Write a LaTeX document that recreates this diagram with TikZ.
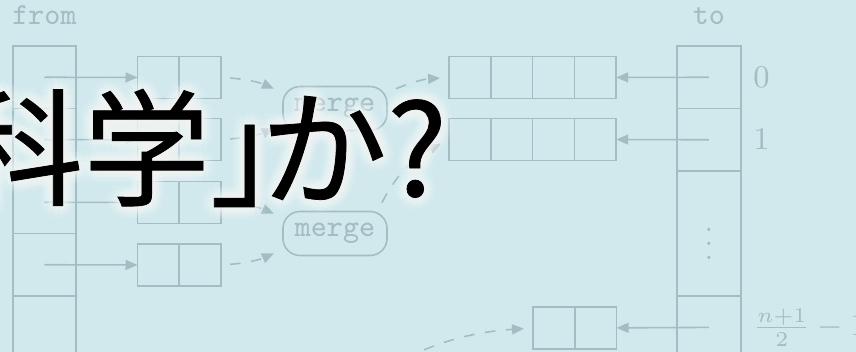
\documentclass[tikz,border=0pt]{standalone}
\usepackage{amsmath}
\usepackage{fontspec}
\newfontfamily\jpfont[FakeBold=0.6]{Noto Sans CJK JP}
\usetikzlibrary{positioning,arrows.meta}

\definecolor{slidebg}{RGB}{209,233,237}
\definecolor{faded}{RGB}{163,189,194}

\tikzset{
  cell/.style={draw=faded, minimum size=0.4175cm, inner sep=0pt, outer sep=0pt},
  slot/.style={draw=faded, minimum width=0.635cm, minimum height=0.625cm, inner sep=0pt, outer sep=0pt},
  merge/.style={draw=faded, rounded corners=0.17cm, minimum width=1.04cm, minimum height=0.41cm, font=\fontsize{8.7}{10.4}\selectfont\ttfamily},
  lbl/.style={font=\fontsize{8.7}{10.4}\selectfont\ttfamily},
  flow/.style={dashed, -{Triangle[length=0.12cm,width=0.1cm]}, shorten <=0.09cm, shorten >=0.09cm},
  title/.style={font=\jpfont\fontsize{36}{36}\selectfont, inner sep=0pt, anchor=base west},
  glowcopy/.style={text=white, text opacity=0.07},
}
\newcommand{\titletext}{科学」\kern-.6em か?}

\begin{document}
\begin{tikzpicture}[x=0.01cm, y=-0.01cm, font=\fontsize{8.7}{10.4}\selectfont, color=faded, text=faded,
    line width=0.45pt, >={Triangle[length=0.12cm,width=0.1cm]}]
    \useasboundingbox (0,0) rectangle (856,352);
    \clip (0,0) rectangle (856,352);
    \fill[slidebg] (0,0) rectangle (856,352);
    % from / to
    \foreach \i in {0,...,4} {
        \node[slot] (f\i) at (44.5,{77.25+62.5*\i}) {};
        \node[left=0pt of f\i] (fl\i) {$\i$};
    }
    \node[lbl, above=0.09cm of f0] (from) {from};
    \node[slot] (t0) at (709,77.25) {};
    \node[slot, below=0pt of t0] (t1) {};
    \node[slot, minimum height=1.25cm, below=0pt of t1] (tdots) {$\vdots$};
    \node[slot, below=0pt of tdots] (tn) {};
    \node[lbl, above=0.09cm of t0] (to) {to};
    \node[right=0pt of t0] (tl0) {$0$};
    \node[right=0pt of t1] (tl1) {$1$};
    \node[right=0pt of tn] (tln) {$\frac{n+1}{2}-1$};
    % pairs
    \foreach \i/\y in {0/77.5,1/139.5,2/202.5,3/265} {
        \node[cell] (p\i1) at (158.4,\y) {};
        \node[cell, right=0pt of p\i1] (p\i2) {};
        \draw[->] (f\i.center) -- (p\i1);
    }
    % runs of four
    \foreach \i/\y in {0/77.5,1/139.5} {
        \node[cell] (q\i1) at (470,\y) {};
        \foreach \j [count=\k from 2] in {1,2,3} {\node[cell, right=0pt of q\i\j] (q\i\k) {};}
    }
    \node[cell] (r1) at (553.9,328) {};
    \node[cell, right=0pt of r1] (r2) {};
    \draw[->] (t0.center) -- (q04);
    \draw[->] (t1.center) -- (q14);
    \draw[->] (tn.center) -- (r2);
    % merges
    \node[merge] (m0) at (335,108.5) {merge};
    \node[merge] (m1) at (335,233.5) {merge};
    \coordinate (m2) at (378,372);
    \draw[flow] (p02.east) to[bend left=10] (m0.163);
    \draw[flow] (p12.east) to[bend right=10] (m0.197);
    \draw[flow] (p22.east) to[bend left=10] (m1.163);
    \draw[flow] (p32.east) to[bend right=10] (m1.197);
    \draw[flow] (m0.17) to[bend left=10] (q01.west);
    \draw[flow] (m1.28) to[bend left=18] (q11.west);
    \draw[flow] (m2) to[bend left=12] (r1.west);
    % title with glow
    \foreach \r in {3,6,9,12} {
        \foreach \a in {0,30,...,330} {
            \node[title, glowcopy, shift={(\a:\r)}] (glow-\r-\a) at (-44,196) {\titletext};
        }
    }
    \node[title, text=black] (ttl) at (-44,196) {\titletext};
\end{tikzpicture}
\end{document}
